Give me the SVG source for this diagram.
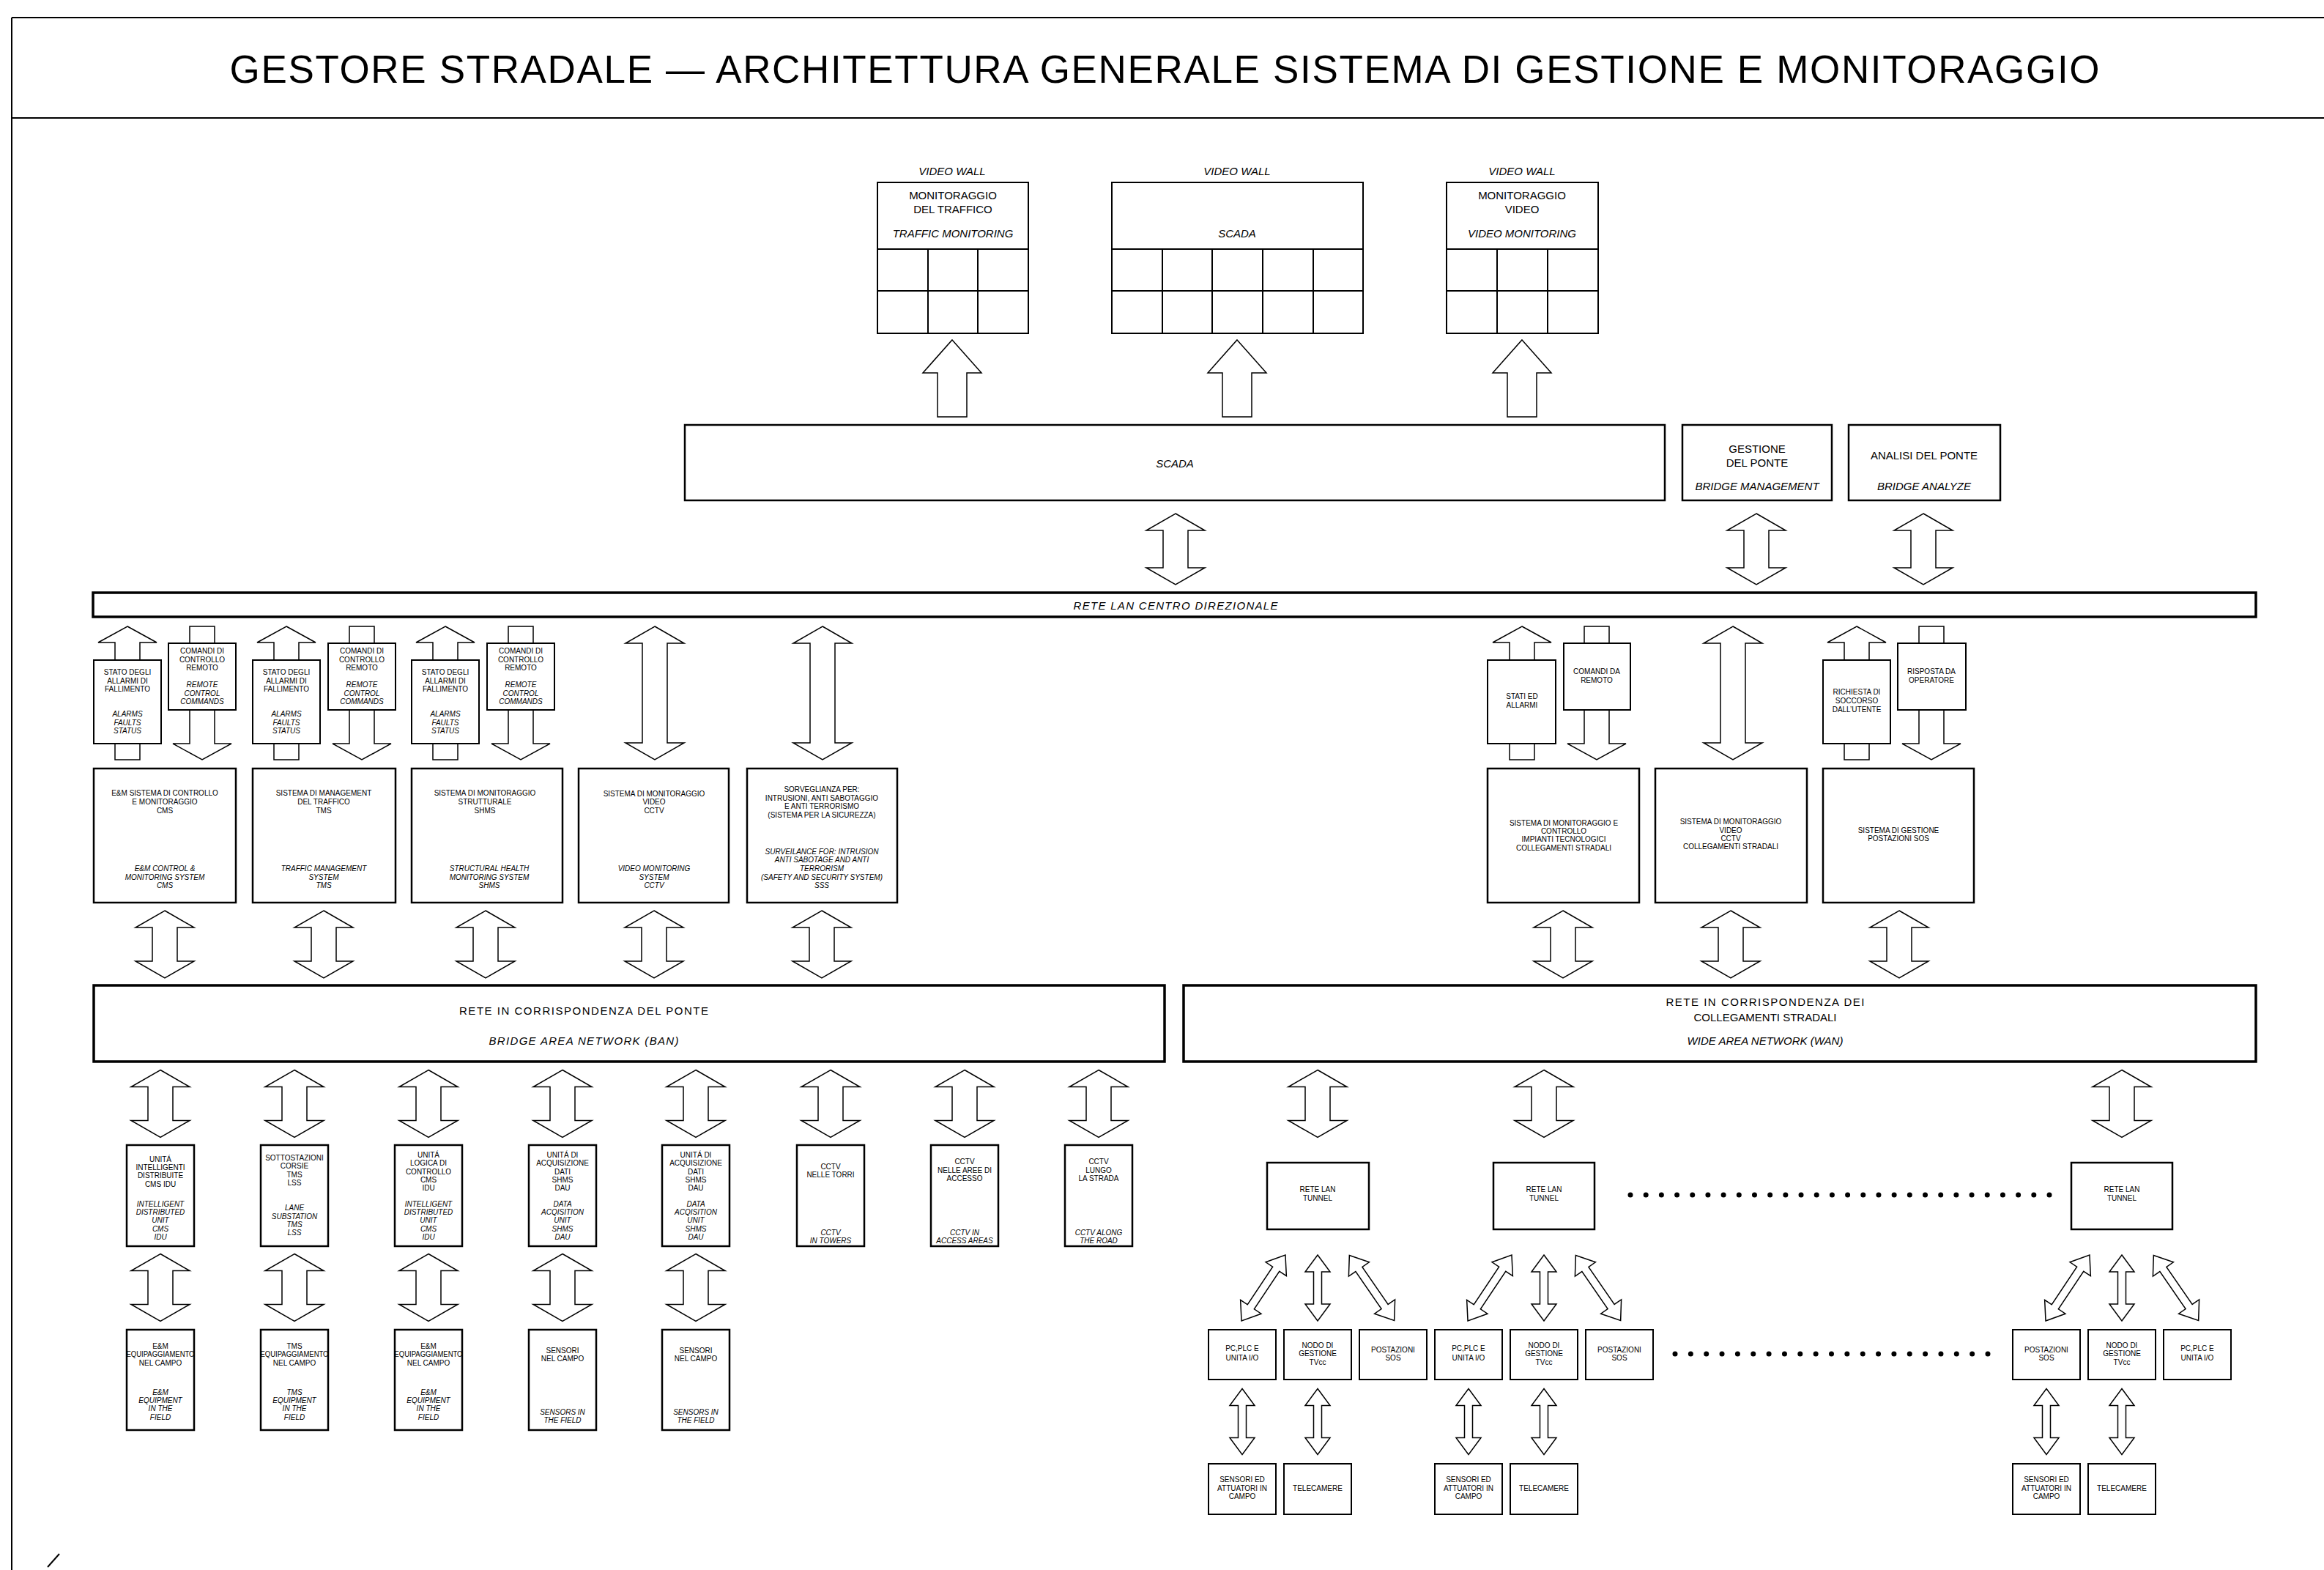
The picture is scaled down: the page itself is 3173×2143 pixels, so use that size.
<svg xmlns="http://www.w3.org/2000/svg" width="3173" height="2143" viewBox="0 0 3173 2143">
<style>
text{font-family:"Liberation Sans",Arial,sans-serif;fill:#000;text-anchor:middle}
.s{font-size:10px}
.m{font-size:15px}
.i{font-style:italic}
.b{fill:#fff;stroke:#000;stroke-width:2}
.bt{fill:#fff;stroke:#000;stroke-width:2.5}
.bar{fill:#fff;stroke:#000;stroke-width:3.5}
.ln{fill:none;stroke:#000;stroke-width:2}
.ar{fill:#fff;stroke:#000;stroke-width:1.5;stroke-linejoin:miter}
.dots{fill:none;stroke:#000;stroke-width:7;stroke-linecap:round}
</style>
<defs>
<polygon id="dA97" points="0,-48.5 40,-25.5 17,-25.5 17,25.5 40,25.5 0,48.5 -40,25.5 -17,25.5 -17,-25.5 -40,-25.5"/>
<polygon id="dA182" points="0,-91 40,-68 17,-68 17,68 40,68 0,91 -40,68 -17,68 -17,-68 -40,-68"/>
<polygon id="dA92" points="0,-46 40,-23 17,-23 17,23 40,23 0,46 -40,23 -17,23 -17,-23 -40,-23"/>
<polygon id="uA" points="0,0 40,22 17,22 17,182 -17,182 -17,22 -40,22"/>
<polygon id="dnA" points="-17,0 17,0 17,160 40,160 0,182 -40,160 -17,160"/>
<polygon id="vwA" points="0,0 40,45 20,45 20,105 -20,105 -20,45 -40,45"/>
<polygon id="sV" points="0,-45 17,-22 5.5,-22 5.5,22 17,22 0,45 -17,22 -5.5,22 -5.5,-22 -17,-22"/>
<polygon id="sD" points="-54,0 -31,-17 -31,-5.5 31,-5.5 31,-17 54,0 31,17 31,5.5 -31,5.5 -31,17"/>
</defs>
<rect width="3173" height="2143" fill="#fff"/>

<g id="frame">
<line class="ln" x1="16" y1="24" x2="3173" y2="24" stroke-width="2.5"/>
<line class="ln" x1="16" y1="161" x2="3173" y2="161" stroke-width="2.5"/>
<line class="ln" x1="16" y1="24" x2="16" y2="2143" stroke-width="2"/>
<line class="ln" x1="65" y1="2139" x2="81" y2="2121" stroke-width="1" stroke="#888"/>
<text id="title" x="1590" y="113" font-size="53" textLength="2553">GESTORE STRADALE — ARCHITETTURA GENERALE SISTEMA DI GESTIONE E MONITORAGGIO</text>
</g>

<g id="connectors" class="ar">
<use href="#vwA" x="1300" y="464"/>
<use href="#vwA" x="1689" y="464"/>
<use href="#vwA" x="2078" y="464"/>
<use href="#dA97" x="1605" y="749.5"/>
<use href="#dA97" x="2398" y="749.5"/>
<use href="#dA97" x="2626" y="749.5"/>
<use href="#uA" x="174" y="855"/>
<use href="#uA" x="391" y="855"/>
<use href="#uA" x="608" y="855"/>
<use href="#uA" x="2078" y="855"/>
<use href="#uA" x="2535" y="855"/>
<use href="#dnA" x="276" y="855"/>
<use href="#dnA" x="494" y="855"/>
<use href="#dnA" x="711" y="855"/>
<use href="#dnA" x="2180" y="855"/>
<use href="#dnA" x="2637" y="855"/>
<use href="#dA182" x="894" y="946"/>
<use href="#dA182" x="1123" y="946"/>
<use href="#dA182" x="2366" y="946"/>
<use href="#dA92" x="225" y="1289"/>
<use href="#dA92" x="442" y="1289"/>
<use href="#dA92" x="663" y="1289"/>
<use href="#dA92" x="893" y="1289"/>
<use href="#dA92" x="1122" y="1289"/>
<use href="#dA92" x="2134" y="1289"/>
<use href="#dA92" x="2363" y="1289"/>
<use href="#dA92" x="2593" y="1289"/>
<use href="#dA92" x="219" y="1506.5"/>
<use href="#dA92" x="402" y="1506.5"/>
<use href="#dA92" x="585" y="1506.5"/>
<use href="#dA92" x="768" y="1506.5"/>
<use href="#dA92" x="950" y="1506.5"/>
<use href="#dA92" x="1134" y="1506.5"/>
<use href="#dA92" x="1317" y="1506.5"/>
<use href="#dA92" x="1500" y="1506.5"/>
<use href="#dA92" x="1799" y="1506.5"/>
<use href="#dA92" x="2108" y="1506.5"/>
<use href="#dA92" x="2897" y="1506.5"/>
<use href="#dA92" x="219" y="1757.5"/>
<use href="#dA92" x="402" y="1757.5"/>
<use href="#dA92" x="585" y="1757.5"/>
<use href="#dA92" x="768" y="1757.5"/>
<use href="#dA92" x="950" y="1757.5"/>
<use href="#sV" x="1799" y="1758"/>
<use href="#sV" x="2108" y="1758"/>
<use href="#sV" x="2897" y="1758"/>
<use href="#sD" transform="translate(1725,1758) rotate(-56.3)"/>
<use href="#sD" transform="translate(1873,1758) rotate(55.4)"/>
<use href="#sD" transform="translate(2034,1758) rotate(-56.3)"/>
<use href="#sD" transform="translate(2182,1758) rotate(55.4)"/>
<use href="#sD" transform="translate(2823,1758) rotate(-56.3)"/>
<use href="#sD" transform="translate(2971,1758) rotate(55.4)"/>
<use href="#sV" x="1696" y="1940.5"/>
<use href="#sV" x="1799" y="1940.5"/>
<use href="#sV" x="2005" y="1940.5"/>
<use href="#sV" x="2108" y="1940.5"/>
<use href="#sV" x="2794" y="1940.5"/>
<use href="#sV" x="2897" y="1940.5"/>
</g>

<g id="vw-traffic">
<text class="m i" x="1300" y="239">VIDEO WALL</text>
<rect class="b" x="1198" y="249" width="206" height="206"/>
<line class="ln" x1="1198" y1="340" x2="1404" y2="340" stroke-width="2.5"/>
<line class="ln" x1="1198" y1="397" x2="1404" y2="397"/>
<line class="ln" x1="1267" y1="340" x2="1267" y2="455" stroke-width="1.5"/>
<line class="ln" x1="1335" y1="340" x2="1335" y2="455" stroke-width="1.5"/>
<text class="m" x="1301" y="272">MONITORAGGIO</text>
<text class="m" x="1301" y="291">DEL TRAFFICO</text>
<text class="m i" x="1301" y="324">TRAFFIC MONITORING</text>
</g>
<g id="vw-scada">
<text class="m i" x="1689" y="239">VIDEO WALL</text>
<rect class="b" x="1518" y="249" width="343" height="206"/>
<line class="ln" x1="1518" y1="340" x2="1861" y2="340" stroke-width="2.5"/>
<line class="ln" x1="1518" y1="397" x2="1861" y2="397"/>
<line class="ln" x1="1587" y1="340" x2="1587" y2="455" stroke-width="1.5"/>
<line class="ln" x1="1655" y1="340" x2="1655" y2="455" stroke-width="1.5"/>
<line class="ln" x1="1724" y1="340" x2="1724" y2="455" stroke-width="1.5"/>
<line class="ln" x1="1793" y1="340" x2="1793" y2="455" stroke-width="1.5"/>
<text class="m i" x="1689" y="324">SCADA</text>
</g>
<g id="vw-video">
<text class="m i" x="2078" y="239">VIDEO WALL</text>
<rect class="b" x="1975" y="249" width="207" height="206"/>
<line class="ln" x1="1975" y1="340" x2="2182" y2="340" stroke-width="2.5"/>
<line class="ln" x1="1975" y1="397" x2="2182" y2="397"/>
<line class="ln" x1="2044" y1="340" x2="2044" y2="455" stroke-width="1.5"/>
<line class="ln" x1="2113" y1="340" x2="2113" y2="455" stroke-width="1.5"/>
<text class="m" x="2078" y="272">MONITORAGGIO</text>
<text class="m" x="2078" y="291">VIDEO</text>
<text class="m i" x="2078" y="324">VIDEO MONITORING</text>
</g>

<g id="scada">
<rect class="bt" x="935" y="580" width="1338" height="103"/>
<text class="m i" x="1604" y="638">SCADA</text>
</g>
<g id="gestione-ponte">
<rect class="bt" x="2297" y="580" width="204" height="103"/>
<text class="m" x="2399" y="618">GESTIONE</text>
<text class="m" x="2399" y="637">DEL PONTE</text>
<text class="m i" x="2399" y="669">BRIDGE MANAGEMENT</text>
</g>
<g id="analisi-ponte">
<rect class="bt" x="2524" y="580" width="207" height="103"/>
<text class="m" x="2627" y="627">ANALISI DEL PONTE</text>
<text class="m i" x="2627" y="669">BRIDGE ANALYZE</text>
</g>

<g id="lan">
<rect class="bar" x="127" y="809" width="2953" height="33"/>
<text class="m i" x="1605" y="832" textLength="279">RETE LAN CENTRO DIREZIONALE</text>
</g>

<g id="stato-1">
<rect class="b" x="128" y="901" width="92" height="114"/>
<text class="s" x="174" y="921">STATO DEGLI</text>
<text class="s" x="174" y="932.5">ALLARMI DI</text>
<text class="s" x="174" y="944">FALLIMENTO</text>
<text class="s i" x="174" y="978">ALARMS</text>
<text class="s i" x="174" y="989.5">FAULTS</text>
<text class="s i" x="174" y="1001">STATUS</text>
</g>
<g id="comandi-1">
<rect class="b" x="230" y="878" width="92" height="91"/>
<text class="s" x="276" y="892">COMANDI DI</text>
<text class="s" x="276" y="903.5">CONTROLLO</text>
<text class="s" x="276" y="915">REMOTO</text>
<text class="s i" x="276" y="938">REMOTE</text>
<text class="s i" x="276" y="949.5">CONTROL</text>
<text class="s i" x="276" y="961">COMMANDS</text>
</g>
<g id="stato-2">
<rect class="b" x="345" y="901" width="92" height="114"/>
<text class="s" x="391" y="921">STATO DEGLI</text>
<text class="s" x="391" y="932.5">ALLARMI DI</text>
<text class="s" x="391" y="944">FALLIMENTO</text>
<text class="s i" x="391" y="978">ALARMS</text>
<text class="s i" x="391" y="989.5">FAULTS</text>
<text class="s i" x="391" y="1001">STATUS</text>
</g>
<g id="comandi-2">
<rect class="b" x="448" y="878" width="92" height="91"/>
<text class="s" x="494" y="892">COMANDI DI</text>
<text class="s" x="494" y="903.5">CONTROLLO</text>
<text class="s" x="494" y="915">REMOTO</text>
<text class="s i" x="494" y="938">REMOTE</text>
<text class="s i" x="494" y="949.5">CONTROL</text>
<text class="s i" x="494" y="961">COMMANDS</text>
</g>
<g id="stato-3">
<rect class="b" x="562" y="901" width="92" height="114"/>
<text class="s" x="608" y="921">STATO DEGLI</text>
<text class="s" x="608" y="932.5">ALLARMI DI</text>
<text class="s" x="608" y="944">FALLIMENTO</text>
<text class="s i" x="608" y="978">ALARMS</text>
<text class="s i" x="608" y="989.5">FAULTS</text>
<text class="s i" x="608" y="1001">STATUS</text>
</g>
<g id="comandi-3">
<rect class="b" x="665" y="878" width="92" height="91"/>
<text class="s" x="711" y="892">COMANDI DI</text>
<text class="s" x="711" y="903.5">CONTROLLO</text>
<text class="s" x="711" y="915">REMOTO</text>
<text class="s i" x="711" y="938">REMOTE</text>
<text class="s i" x="711" y="949.5">CONTROL</text>
<text class="s i" x="711" y="961">COMMANDS</text>
</g>
<g id="stati-allarmi">
<rect class="b" x="2031" y="901" width="93" height="114"/>
<text class="s" x="2078" y="954">STATI ED</text>
<text class="s" x="2078" y="966">ALLARMI</text>
</g>
<g id="comandi-remoto">
<rect class="b" x="2135" y="878" width="91" height="91"/>
<text class="s" x="2180" y="920">COMANDI DA</text>
<text class="s" x="2180" y="932">REMOTO</text>
</g>
<g id="richiesta-soccorso">
<rect class="b" x="2489" y="901" width="92" height="114"/>
<text class="s" x="2535" y="948">RICHIESTA DI</text>
<text class="s" x="2535" y="960">SOCCORSO</text>
<text class="s" x="2535" y="972">DALL’UTENTE</text>
</g>
<g id="risposta-operatore">
<rect class="b" x="2591" y="878" width="93" height="91"/>
<text class="s" x="2637" y="920">RISPOSTA DA</text>
<text class="s" x="2637" y="932">OPERATORE</text>
</g>

<g id="sys-cms">
<rect class="bt" x="128" y="1049" width="194" height="183"/>
<text class="s" x="225" y="1086">E&amp;M SISTEMA DI CONTROLLO</text>
<text class="s" x="225" y="1098">E MONITORAGGIO</text>
<text class="s" x="225" y="1110">CMS</text>
<text class="s i" x="225" y="1189">E&amp;M CONTROL &amp;</text>
<text class="s i" x="225" y="1201">MONITORING SYSTEM</text>
<text class="s i" x="225" y="1212">CMS</text>
</g>
<g id="sys-tms">
<rect class="bt" x="345" y="1049" width="195" height="183"/>
<text class="s" x="442" y="1086">SISTEMA DI MANAGEMENT</text>
<text class="s" x="442" y="1098">DEL TRAFFICO</text>
<text class="s" x="442" y="1110">TMS</text>
<text class="s i" x="442" y="1189">TRAFFIC MANAGEMENT</text>
<text class="s i" x="442" y="1201">SYSTEM</text>
<text class="s i" x="442" y="1212">TMS</text>
</g>
<g id="sys-shms">
<rect class="bt" x="562" y="1049" width="206" height="183"/>
<text class="s" x="662" y="1086">SISTEMA DI MONITORAGGIO</text>
<text class="s" x="662" y="1098">STRUTTURALE</text>
<text class="s" x="662" y="1110">SHMS</text>
<text class="s i" x="668" y="1189">STRUCTURAL HEALTH</text>
<text class="s i" x="668" y="1201">MONITORING SYSTEM</text>
<text class="s i" x="668" y="1212">SHMS</text>
</g>
<g id="sys-cctv">
<rect class="bt" x="790" y="1049" width="205" height="183"/>
<text class="s" x="893" y="1087">SISTEMA DI MONITORAGGIO</text>
<text class="s" x="893" y="1098">VIDEO</text>
<text class="s" x="893" y="1110">CCTV</text>
<text class="s i" x="893" y="1189">VIDEO MONITORING</text>
<text class="s i" x="893" y="1201">SYSTEM</text>
<text class="s i" x="893" y="1212">CCTV</text>
</g>
<g id="sys-sss">
<rect class="bt" x="1020" y="1049" width="205" height="183"/>
<text class="s" x="1122" y="1081">SORVEGLIANZA PER:</text>
<text class="s" x="1122" y="1093">INTRUSIONI, ANTI SABOTAGGIO</text>
<text class="s" x="1122" y="1104">E ANTI TERRORISMO</text>
<text class="s" x="1122" y="1116">(SISTEMA PER LA SICUREZZA)</text>
<text class="s i" x="1122" y="1166">SURVEILANCE FOR: INTRUSION</text>
<text class="s i" x="1122" y="1177">ANTI SABOTAGE AND ANTI</text>
<text class="s i" x="1122" y="1189">TERRORISM</text>
<text class="s i" x="1122" y="1201">(SAFETY AND SECURITY SYSTEM)</text>
<text class="s i" x="1122" y="1212">SSS</text>
</g>
<g id="sys-impianti">
<rect class="bt" x="2031" y="1049" width="207" height="183"/>
<text class="s" x="2135" y="1127">SISTEMA DI MONITORAGGIO E</text>
<text class="s" x="2135" y="1138">CONTROLLO</text>
<text class="s" x="2135" y="1149">IMPIANTI TECNOLOGICI</text>
<text class="s" x="2135" y="1161">COLLEGAMENTI STRADALI</text>
</g>
<g id="sys-cctv-strade">
<rect class="bt" x="2260" y="1049" width="207" height="183"/>
<text class="s" x="2363" y="1125">SISTEMA DI MONITORAGGIO</text>
<text class="s" x="2363" y="1137">VIDEO</text>
<text class="s" x="2363" y="1148">CCTV</text>
<text class="s" x="2363" y="1159">COLLEGAMENTI STRADALI</text>
</g>
<g id="sys-sos">
<rect class="bt" x="2489" y="1049" width="206" height="183"/>
<text class="s" x="2592" y="1137">SISTEMA DI GESTIONE</text>
<text class="s" x="2592" y="1148">POSTAZIONI SOS</text>
</g>

<g id="ban">
<rect class="bar" x="128" y="1345" width="1462" height="104"/>
<text class="m" x="797" y="1385" textLength="340">RETE IN CORRISPONDENZA DEL PONTE</text>
<text class="m i" x="797" y="1426" textLength="259">BRIDGE AREA NETWORK (BAN)</text>
</g>
<g id="wan">
<rect class="bar" x="1616" y="1345" width="1464" height="104"/>
<text class="m" x="2410" y="1373" textLength="271">RETE IN CORRISPONDENZA DEI</text>
<text class="m" x="2410" y="1394">COLLEGAMENTI STRADALI</text>
<text class="m i" x="2410" y="1426">WIDE AREA NETWORK (WAN)</text>
</g>

<g id="u-cms-idu">
<rect class="bt" x="173" y="1563" width="92" height="138"/>
<text class="s" x="219" y="1586">UNITÁ</text>
<text class="s" x="219" y="1597">INTELLIGENTI</text>
<text class="s" x="219" y="1608">DISTRIBUITE</text>
<text class="s" x="219" y="1620">CMS IDU</text>
<text class="s i" x="219" y="1647">INTELLIGENT</text>
<text class="s i" x="219" y="1658">DISTRIBUTED</text>
<text class="s i" x="219" y="1669">UNIT</text>
<text class="s i" x="219" y="1681">CMS</text>
<text class="s i" x="219" y="1692">IDU</text>
</g>
<g id="u-tms-lss">
<rect class="bt" x="356" y="1563" width="92" height="138"/>
<text class="s" x="402" y="1584">SOTTOSTAZIONI</text>
<text class="s" x="402" y="1595">CORSIE</text>
<text class="s" x="402" y="1607">TMS</text>
<text class="s" x="402" y="1618">LSS</text>
<text class="s i" x="402" y="1652">LANE</text>
<text class="s i" x="402" y="1664">SUBSTATION</text>
<text class="s i" x="402" y="1675">TMS</text>
<text class="s i" x="402" y="1686">LSS</text>
</g>
<g id="u-logica">
<rect class="bt" x="539" y="1563" width="92" height="138"/>
<text class="s" x="585" y="1580">UNITÁ</text>
<text class="s" x="585" y="1591">LOGICA DI</text>
<text class="s" x="585" y="1603">CONTROLLO</text>
<text class="s" x="585" y="1614">CMS</text>
<text class="s" x="585" y="1625">IDU</text>
<text class="s i" x="585" y="1647">INTELLIGENT</text>
<text class="s i" x="585" y="1658">DISTRIBUTED</text>
<text class="s i" x="585" y="1669">UNIT</text>
<text class="s i" x="585" y="1681">CMS</text>
<text class="s i" x="585" y="1692">IDU</text>
</g>
<g id="u-dau-1">
<rect class="bt" x="722" y="1563" width="92" height="138"/>
<text class="s" x="768" y="1580">UNITÁ DI</text>
<text class="s" x="768" y="1591">ACQUISIZIONE</text>
<text class="s" x="768" y="1603">DATI</text>
<text class="s" x="768" y="1614">SHMS</text>
<text class="s" x="768" y="1625">DAU</text>
<text class="s i" x="768" y="1647">DATA</text>
<text class="s i" x="768" y="1658">ACQISITION</text>
<text class="s i" x="768" y="1669">UNIT</text>
<text class="s i" x="768" y="1681">SHMS</text>
<text class="s i" x="768" y="1692">DAU</text>
</g>
<g id="u-dau-2">
<rect class="bt" x="904" y="1563" width="92" height="138"/>
<text class="s" x="950" y="1580">UNITÁ DI</text>
<text class="s" x="950" y="1591">ACQUISIZIONE</text>
<text class="s" x="950" y="1603">DATI</text>
<text class="s" x="950" y="1614">SHMS</text>
<text class="s" x="950" y="1625">DAU</text>
<text class="s i" x="950" y="1647">DATA</text>
<text class="s i" x="950" y="1658">ACQISITION</text>
<text class="s i" x="950" y="1669">UNIT</text>
<text class="s i" x="950" y="1681">SHMS</text>
<text class="s i" x="950" y="1692">DAU</text>
</g>
<g id="u-cctv-torri">
<rect class="bt" x="1088" y="1563" width="92" height="138"/>
<text class="s" x="1134" y="1596">CCTV</text>
<text class="s" x="1134" y="1607">NELLE TORRI</text>
<text class="s i" x="1134" y="1686">CCTV</text>
<text class="s i" x="1134" y="1697">IN TOWERS</text>
</g>
<g id="u-cctv-accesso">
<rect class="bt" x="1271" y="1563" width="92" height="138"/>
<text class="s" x="1317" y="1589">CCTV</text>
<text class="s" x="1317" y="1601">NELLE AREE DI</text>
<text class="s" x="1317" y="1612">ACCESSO</text>
<text class="s i" x="1317" y="1686">CCTV IN</text>
<text class="s i" x="1317" y="1697">ACCESS AREAS</text>
</g>
<g id="u-cctv-strada">
<rect class="bt" x="1454" y="1563" width="92" height="138"/>
<text class="s" x="1500" y="1589">CCTV</text>
<text class="s" x="1500" y="1601">LUNGO</text>
<text class="s" x="1500" y="1612">LA STRADA</text>
<text class="s i" x="1500" y="1686">CCTV ALONG</text>
<text class="s i" x="1500" y="1697">THE ROAD</text>
</g>

<g id="f-em-1">
<rect class="bt" x="173" y="1815" width="92" height="137"/>
<text class="s" x="219" y="1841">E&amp;M</text>
<text class="s" x="219" y="1852" textLength="93" lengthAdjust="spacingAndGlyphs">EQUIPAGGIAMENTO</text>
<text class="s" x="219" y="1864">NEL CAMPO</text>
<text class="s i" x="219" y="1904">E&amp;M</text>
<text class="s i" x="219" y="1915">EQUIPMENT</text>
<text class="s i" x="219" y="1926">IN THE</text>
<text class="s i" x="219" y="1938">FIELD</text>
</g>
<g id="f-tms">
<rect class="bt" x="356" y="1815" width="92" height="137"/>
<text class="s" x="402" y="1841">TMS</text>
<text class="s" x="402" y="1852" textLength="93" lengthAdjust="spacingAndGlyphs">EQUIPAGGIAMENTO</text>
<text class="s" x="402" y="1864">NEL CAMPO</text>
<text class="s i" x="402" y="1904">TMS</text>
<text class="s i" x="402" y="1915">EQUIPMENT</text>
<text class="s i" x="402" y="1926">IN THE</text>
<text class="s i" x="402" y="1938">FIELD</text>
</g>
<g id="f-em-2">
<rect class="bt" x="539" y="1815" width="92" height="137"/>
<text class="s" x="585" y="1841">E&amp;M</text>
<text class="s" x="585" y="1852" textLength="93" lengthAdjust="spacingAndGlyphs">EQUIPAGGIAMENTO</text>
<text class="s" x="585" y="1864">NEL CAMPO</text>
<text class="s i" x="585" y="1904">E&amp;M</text>
<text class="s i" x="585" y="1915">EQUIPMENT</text>
<text class="s i" x="585" y="1926">IN THE</text>
<text class="s i" x="585" y="1938">FIELD</text>
</g>
<g id="f-sensori-1">
<rect class="bt" x="722" y="1815" width="92" height="137"/>
<text class="s" x="768" y="1847">SENSORI</text>
<text class="s" x="768" y="1858">NEL CAMPO</text>
<text class="s i" x="768" y="1931">SENSORS IN</text>
<text class="s i" x="768" y="1942">THE FIELD</text>
</g>
<g id="f-sensori-2">
<rect class="bt" x="904" y="1815" width="92" height="137"/>
<text class="s" x="950" y="1847">SENSORI</text>
<text class="s" x="950" y="1858">NEL CAMPO</text>
<text class="s i" x="950" y="1931">SENSORS IN</text>
<text class="s i" x="950" y="1942">THE FIELD</text>
</g>

<g id="tunnel-1">
<rect class="bt" x="1730" y="1587" width="139" height="91"/>
<text class="s" x="1799" y="1627">RETE LAN</text>
<text class="s" x="1799" y="1639">TUNNEL</text>
</g>
<g id="tunnel-2">
<rect class="bt" x="2039" y="1587" width="138" height="91"/>
<text class="s" x="2108" y="1627">RETE LAN</text>
<text class="s" x="2108" y="1639">TUNNEL</text>
</g>
<g id="tunnel-3">
<rect class="bt" x="2828" y="1587" width="138" height="91"/>
<text class="s" x="2897" y="1627">RETE LAN</text>
<text class="s" x="2897" y="1639">TUNNEL</text>
</g>
<g id="dots">
<line class="dots" x1="2226" y1="1631" x2="2799" y2="1631" stroke-dasharray="0 21.185"/>
<line class="dots" x1="2287" y1="1848" x2="2715" y2="1848" stroke-dasharray="0 21.35"/>
</g>

<g id="t1-plc">
<rect class="b" x="1650" y="1815" width="92" height="68"/>
<text class="s" x="1696" y="1844">PC,PLC E</text>
<text class="s" x="1696" y="1857">UNITA I/O</text>
</g>
<g id="t1-nodo">
<rect class="b" x="1753" y="1815" width="92" height="68"/>
<text class="s" x="1799" y="1840">NODO DI</text>
<text class="s" x="1799" y="1851">GESTIONE</text>
<text class="s" x="1799" y="1863">TVcc</text>
</g>
<g id="t1-sos">
<rect class="b" x="1856" y="1815" width="92" height="68"/>
<text class="s" x="1902" y="1846">POSTAZIONI</text>
<text class="s" x="1902" y="1857">SOS</text>
</g>
<g id="t2-plc">
<rect class="b" x="1959" y="1815" width="92" height="68"/>
<text class="s" x="2005" y="1844">PC,PLC E</text>
<text class="s" x="2005" y="1857">UNITA I/O</text>
</g>
<g id="t2-nodo">
<rect class="b" x="2062" y="1815" width="92" height="68"/>
<text class="s" x="2108" y="1840">NODO DI</text>
<text class="s" x="2108" y="1851">GESTIONE</text>
<text class="s" x="2108" y="1863">TVcc</text>
</g>
<g id="t2-sos">
<rect class="b" x="2165" y="1815" width="92" height="68"/>
<text class="s" x="2211" y="1846">POSTAZIONI</text>
<text class="s" x="2211" y="1857">SOS</text>
</g>
<g id="t3-sos">
<rect class="b" x="2748" y="1815" width="92" height="68"/>
<text class="s" x="2794" y="1846">POSTAZIONI</text>
<text class="s" x="2794" y="1857">SOS</text>
</g>
<g id="t3-nodo">
<rect class="b" x="2851" y="1815" width="92" height="68"/>
<text class="s" x="2897" y="1840">NODO DI</text>
<text class="s" x="2897" y="1851">GESTIONE</text>
<text class="s" x="2897" y="1863">TVcc</text>
</g>
<g id="t3-plc">
<rect class="b" x="2954" y="1815" width="92" height="68"/>
<text class="s" x="3000" y="1844">PC,PLC E</text>
<text class="s" x="3000" y="1857">UNITA I/O</text>
</g>

<g id="t1-sensori">
<rect class="b" x="1650" y="1998" width="92" height="69"/>
<text class="s" x="1696" y="2023">SENSORI ED</text>
<text class="s" x="1696" y="2035">ATTUATORI IN</text>
<text class="s" x="1696" y="2046">CAMPO</text>
</g>
<g id="t1-telecamere">
<rect class="b" x="1753" y="1998" width="92" height="69"/>
<text class="s" x="1799" y="2035">TELECAMERE</text>
</g>
<g id="t2-sensori">
<rect class="b" x="1959" y="1998" width="92" height="69"/>
<text class="s" x="2005" y="2023">SENSORI ED</text>
<text class="s" x="2005" y="2035">ATTUATORI IN</text>
<text class="s" x="2005" y="2046">CAMPO</text>
</g>
<g id="t2-telecamere">
<rect class="b" x="2062" y="1998" width="92" height="69"/>
<text class="s" x="2108" y="2035">TELECAMERE</text>
</g>
<g id="t3-sensori">
<rect class="b" x="2748" y="1998" width="92" height="69"/>
<text class="s" x="2794" y="2023">SENSORI ED</text>
<text class="s" x="2794" y="2035">ATTUATORI IN</text>
<text class="s" x="2794" y="2046">CAMPO</text>
</g>
<g id="t3-telecamere">
<rect class="b" x="2851" y="1998" width="92" height="69"/>
<text class="s" x="2897" y="2035">TELECAMERE</text>
</g>
</svg>
